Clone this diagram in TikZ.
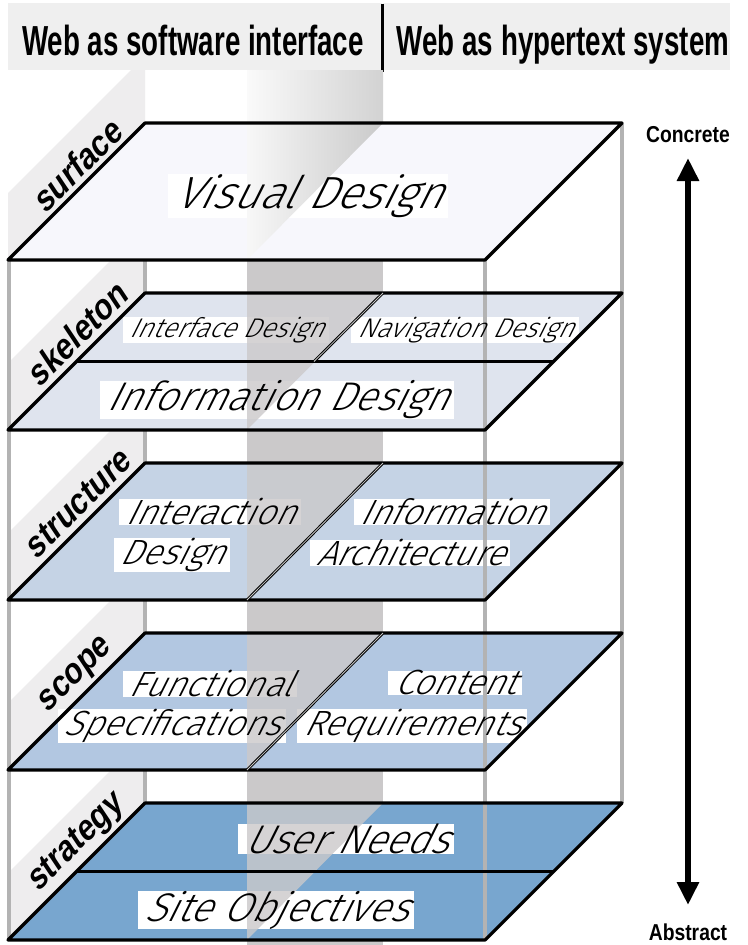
\documentclass[tikz,border=0pt]{standalone}
\usepackage{fontspec}
\setmainfont{Liberation Sans}
\newfontfamily\headfont{Liberation Sans}[FakeStretch=0.66]
\newfontfamily\endfont{Liberation Sans}[FakeStretch=0.84]
\newfontfamily\sidefont{Liberation Sans}[FakeSlant=0.2,FakeStretch=0.9]
\newfontfamily\planefont{Fira Sans Light}[FakeSlant=0.5]
\usetikzlibrary{arrows.meta}
\definecolor{headgray}{HTML}{EFEFEF}
\definecolor{panelgray}{HTML}{EEEDEE}
\definecolor{bandgray}{HTML}{CBC9CA}
\definecolor{postgray}{HTML}{B3B3B3}
\definecolor{surfc}{HTML}{F7F7FC}
\definecolor{skelc}{HTML}{DFE4EE}
\definecolor{strucc}{HTML}{C5D3E5}
\definecolor{scopec}{HTML}{B2C7E1}
\definecolor{stratc}{HTML}{78A6CF}
\newcommand\fbig{\planefont\fontsize{45}{45}\selectfont}
\newcommand\finfo{\planefont\fontsize{40}{40}\selectfont}
\newcommand\fmid{\planefont\fontsize{35}{35}\selectfont}
\newcommand\fsmall{\planefont\fontsize{27}{27}\selectfont}
\tikzset{
  edge/.style={draw=black, line width=3.2pt, line join=round},
  divline/.style={draw=black, line width=1pt, double=gray!45, double distance=0.8pt},
  post/.style={draw=postgray, line width=4pt},
  lbox/.style={fill=white, inner xsep=6pt, inner ysep=0pt},
  ltext/.style={text=black, inner xsep=6pt, inner ysep=0pt},
  sidelabel/.style={rotate=45, font=\sidefont\bfseries\fontsize{35}{35}\selectfont, inner sep=0pt},
  headlabel/.style={anchor=base, font=\headfont\bfseries\fontsize{42}{42}\selectfont, inner sep=0pt},
  endlabel/.style={anchor=base, font=\endfont\bfseries\fontsize{23}{23}\selectfont, inner sep=0pt},
  bigarrow/.style={line width=6pt, {Triangle[length=23pt,width=21pt]}-{Triangle[length=23pt,width=21pt]}},
}
\begin{document}
\begin{tikzpicture}[x=1pt,y=-1pt]
\useasboundingbox (0,0) rectangle (747,945);
\fill[white] (0,0) rectangle (747,945);
% side panels
\foreach \T in {123,293,463,633,803}{
  \fill[panelgray] (8,\T+137) -- (8,\T+70) -- (145,\T-67) -- (145,\T) -- cycle;
}
% header
\fill[headgray] (8,3) rectangle (382,70);
\fill[headgray] (383,3) rectangle (730,70);
\draw[line width=2.6pt] (382.5,4) -- (382.5,72);
\node[headlabel] (hsoft) at (193,55) {Web as software interface};
\node[headlabel] (hhyper) at (563,55) {Web as hypertext system};
% column above surface
\shade[left color=gray!4, right color=gray!35] (247,70) rectangle (383,123);
% vertical band
\fill[bandgray] (247,260) rectangle (383,945);
% back posts
\draw[post] (9,260) -- (9,940);
\draw[post] (145,260) -- (145,803);
\draw[post] (622,123) -- (622,803);
% plane fills
\foreach \T/\c in {123/surfc,293/skelc,463/strucc,633/scopec,803/stratc}{
  \fill[\c] (145,\T) -- (622,\T) -- (485,\T+137) -- (8,\T+137) -- cycle;
}
% label boxes
\node[lbox, font=\fbig] (vdb) at (308,196) {\phantom{Visual Design}};
\node[lbox, font=\fsmall] (idb) at (226,330) {\phantom{Interface Design}};
\node[lbox, font=\fsmall] (ndb) at (465,330) {\phantom{Navigation Design}};
\node[lbox, font=\finfo] (ifdb) at (277,400) {\phantom{Information Design}};
\node[lbox, font=\fmid] (ia1b) at (210,512) {\phantom{Interaction}};
\node[lbox, font=\fmid] (ia2b) at (172,555) {\phantom{Design}};
\node[lbox, font=\fmid] (ar1b) at (452,512) {\phantom{Information}};
\node[lbox, font=\fmid] (ar2b) at (410,553) {\phantom{Architecture}};
\node[lbox, font=\fmid] (fs1b) at (210,684) {\phantom{Functional}};
\node[lbox, font=\fmid] (fs2b) at (172,726) {\phantom{Specifications}};
\node[lbox, font=\fmid] (cr1b) at (455,683) {\phantom{Content}};
\node[lbox, font=\fmid] (cr2b) at (412,726) {\phantom{Requirements}};
\node[lbox, font=\finfo] (unb) at (346,839) {\phantom{User Needs}};
\node[lbox, font=\finfo] (sob) at (276,910) {\phantom{Site Objectives}};
% band overlays on planes
\shade[left color=gray!6, right color=gray!42] (247,123) -- (383,123) -- (247,260) -- cycle;
\foreach \T in {293,463,633,803}{
  \fill[bandgray, opacity=0.8] (247,\T) -- (383,\T) -- (247,\T+137) -- cycle;
}
% front post
\draw[post] (485,260) -- (485,940);
% outlines
\foreach \T in {123,293,463,633,803}{
  \draw[edge] (145,\T) -- (622,\T) -- (485,\T+137) -- (8,\T+137) -- cycle;
}
\draw[edge] (76.5,361.5) -- (553.5,361.5);
\draw[edge] (76.5,871.5) -- (553.5,871.5);
\draw[divline] (383,293) -- (314,361.5);
\draw[divline] (383,463) -- (247,600);
\draw[divline] (383,633) -- (247,770);
% label texts
\node[ltext, font=\fbig] (vd) at (vdb.center) {Visual Design};
\node[ltext, font=\fsmall] (id) at (idb.center) {Interface Design};
\node[ltext, font=\fsmall] (nd) at (ndb.center) {Navigation Design};
\node[ltext, font=\finfo] (ifd) at (ifdb.center) {Information Design};
\node[ltext, font=\fmid] (ia1) at (ia1b.center) {Interaction};
\node[ltext, font=\fmid] (ia2) at (ia2b.center) {Design};
\node[ltext, font=\fmid] (ar1) at (ar1b.center) {Information};
\node[ltext, font=\fmid] (ar2) at (ar2b.center) {Architecture};
\node[ltext, font=\fmid] (fs1) at (fs1b.center) {Functional};
\node[ltext, font=\fmid] (fs2) at (fs2b.center) {Specifications};
\node[ltext, font=\fmid] (cr1) at (cr1b.center) {Content};
\node[ltext, font=\fmid] (cr2) at (cr2b.center) {Requirements};
\node[ltext, font=\finfo] (un) at (unb.center) {User Needs};
\node[ltext, font=\finfo] (so) at (sob.center) {Site Objectives};
% side labels
\node[sidelabel] (lsurf) at (76,166) {surface};
\node[sidelabel] (lskel) at (76,334) {skeleton};
\node[sidelabel] (lstru) at (77,504) {structure};
\node[sidelabel] (lscop) at (76,677) {scope};
\node[sidelabel] (lstra) at (76,844) {strategy};
% arrow
\node[endlabel] (concrete) at (688,142) {Concrete};
\node[endlabel] (abstract) at (688,940) {Abstract};
\coordinate (atop) at (688,158);
\coordinate (abot) at (688,905);
\draw[bigarrow] (abot) -- (atop);
\end{tikzpicture}
\end{document}
